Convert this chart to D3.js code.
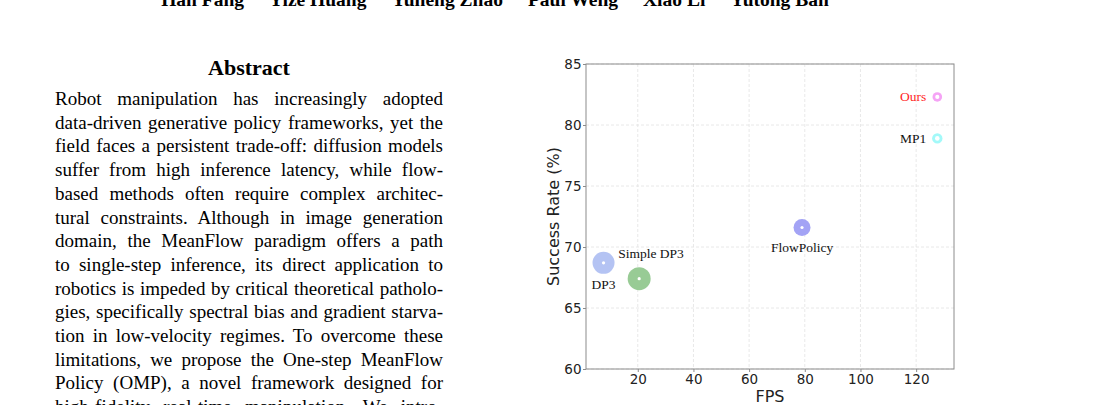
<!DOCTYPE html>
<html>
<head>
<meta charset="utf-8">
<script src="https://cdn.jsdelivr.net/npm/d3@7"></script>
<style>
  html, body { margin: 0; padding: 0; background: #fff; overflow: hidden; }
  #page { position: relative; width: 1104px; height: 405px; }
  #page svg { position: absolute; left: 0; top: 0; }
  #abstract {
    position: absolute; left: 55px; top: 87px; width: 388px;
    font-family: "Liberation Serif", "Times New Roman", serif;
    font-size: 19px; line-height: 23.7px; color: #000;
  }
  #abstract div { white-space: nowrap; }
  #abstract span { display: inline-block; }
</style>
</head>
<body>
<div id="page"><div id="abstract"></div></div>
<script>
// Paper header: author row, abstract on the left, FPS vs. success-rate scatter on the right.
const authors = ["Han Fang", "Yize Huang", "Yuheng Zhao", "Paul Weng", "Xiao Li", "Yutong Ban"];

const abstractLines = [
    "Robot manipulation has increasingly adopted",
    "data-driven generative policy frameworks, yet the",
    "field faces a persistent trade-off: diffusion models",
    "suffer from high inference latency, while flow-",
    "based methods often require complex architec-",
    "tural constraints. Although in image generation",
    "domain, the MeanFlow paradigm offers a path",
    "to single-step inference, its direct application to",
    "robotics is impeded by critical theoretical patholo-",
    "gies, specifically spectral bias and gradient starva-",
    "tion in low-velocity regimes. To overcome these",
    "limitations, we propose the One-step MeanFlow",
    "Policy (OMP), a novel framework designed for",
    "high-fidelity real-time manipulation. We intro-"
];

const methods = ["DP3", "Simple DP3", "FlowPolicy", "Ours", "MP1"];
const fps = [7.7, 20.5, 79.0, 127.6, 127.6];
const successRate = [68.7, 67.4, 71.6, 82.3, 78.9];

const xTicks = [20, 40, 60, 80, 100, 120];
const yTicks = [60, 65, 70, 75, 80, 85];

// marker look and label placement (px offsets from the point)
const markerStyle = {
    "DP3":        { fill: "#b4c3f3", r: 11,   dot: 1.6, dx: 0,   dy: 26,  anchor: "middle", text: "#111" },
    "Simple DP3": { fill: "#98cb95", r: 11.5, dot: 1.6, dx: -21, dy: -21, anchor: "start",  text: "#111" },
    "FlowPolicy": { fill: "#a3a3f5", r: 8.5,  dot: 1.6, dx: 0,   dy: 25,  anchor: "middle", text: "#111" },
    "Ours":       { fill: "#f5a3f5", r: 4.8,  dot: 2.1, dx: -11, dy: 4.5, anchor: "end",    text: "#ff1f1f" },
    "MP1":        { fill: "#a3f9f9", r: 5.2,  dot: 2.3, dx: -11, dy: 4.5, anchor: "end",    text: "#111" }
};

const serif = "'Liberation Serif', 'Times New Roman', serif";
const sans = "'DejaVu Sans', sans-serif";

const svg = d3.select("#page").insert("svg", "#abstract")
    .attr("width", 1104).attr("height", 405);

// author row, centred on the page's text block
const authorRow = svg.append("g")
    .attr("font-family", serif).attr("font-weight", "bold").attr("font-size", 19.5).attr("fill", "#000");
const authorGap = 25;
const authorText = authorRow.selectAll("text").data(authors).join("text").text(d => d).attr("y", 6);
const widths = authorText.nodes().map(n => n.getComputedTextLength());
const totalWidth = d3.sum(widths) + authorGap * (authors.length - 1);
let cursor = 495 - totalWidth / 2;
authorText.each(function (d, i) {
    d3.select(this).attr("x", cursor);
    cursor += widths[i] + authorGap;
});

svg.append("text")
    .attr("x", 249).attr("y", 75)
    .attr("text-anchor", "middle")
    .attr("font-family", serif).attr("font-weight", "bold").attr("font-size", 22)
    .attr("fill", "#000")
    .text("Abstract");

// justify each line by hand: stretch (or squeeze) the word spacing to fill the column
const columnWidth = 388;
d3.select("#abstract").selectAll("div").data(abstractLines).join("div")
    .append("span").text(d => d)
    .each(function (d) {
        const gaps = d.split(" ").length - 1;
        const natural = this.getBoundingClientRect().width;
        if (gaps > 0) d3.select(this).style("word-spacing", `${(columnWidth - natural) / gaps}px`);
    });

// scatter
const plot = { left: 586, right: 954, top: 64, bottom: 369 };
const x = d3.scaleLinear().domain([1.4, 133.6]).range([plot.left, plot.right]);
const y = d3.scaleLinear().domain([60, 85]).range([plot.bottom, plot.top]);

const chart = svg.append("g");

chart.append("g").selectAll("line").data(xTicks).join("line")
    .attr("x1", d => x(d)).attr("x2", d => x(d))
    .attr("y1", plot.top).attr("y2", plot.bottom)
    .attr("stroke", "#e2e2e2").attr("stroke-width", 0.8).attr("stroke-dasharray", "3,2");
chart.append("g").selectAll("line").data(yTicks).join("line")
    .attr("x1", plot.left).attr("x2", plot.right)
    .attr("y1", d => y(d)).attr("y2", d => y(d))
    .attr("stroke", "#e2e2e2").attr("stroke-width", 0.8).attr("stroke-dasharray", "3,2");

const xAxis = chart.append("g")
    .attr("transform", `translate(0,${plot.bottom})`)
    .call(d3.axisBottom(x).tickValues(xTicks).tickSize(3).tickPadding(2));
const yAxis = chart.append("g")
    .attr("transform", `translate(${plot.left},0)`)
    .call(d3.axisLeft(y).tickValues(yTicks).tickSize(3).tickPadding(1.5));

[xAxis, yAxis].forEach(axis => {
    axis.select(".domain").remove();
    axis.selectAll(".tick line").attr("stroke", "#8c8c8c");
    axis.selectAll(".tick text")
        .attr("font-family", sans).attr("font-size", 13.5).attr("fill", "#222");
});

chart.append("rect")
    .attr("x", plot.left).attr("y", plot.top)
    .attr("width", plot.right - plot.left).attr("height", plot.bottom - plot.top)
    .attr("fill", "none").attr("stroke", "#8c8c8c").attr("stroke-width", 1);

chart.append("text")
    .attr("x", (plot.left + plot.right) / 2).attr("y", 402)
    .attr("text-anchor", "middle")
    .attr("font-family", sans).attr("font-size", 16).attr("fill", "#222")
    .text("FPS");

chart.append("text")
    .attr("transform", `translate(559,${(plot.top + plot.bottom) / 2}) rotate(-90)`)
    .attr("text-anchor", "middle")
    .attr("font-family", sans).attr("font-size", 16).attr("fill", "#222")
    .text("Success Rate (%)");

const points = methods.map((m, i) => ({ method: m, fps: fps[i], rate: successRate[i], style: markerStyle[m] }));

const marks = chart.append("g").selectAll("g").data(points).join("g")
    .attr("transform", d => `translate(${x(d.fps)},${y(d.rate)})`);
marks.append("circle").attr("r", d => d.style.r).attr("fill", d => d.style.fill);
marks.append("circle").attr("r", d => d.style.dot).attr("fill", "#fff");
marks.append("text")
    .attr("x", d => d.style.dx).attr("y", d => d.style.dy)
    .attr("text-anchor", d => d.style.anchor)
    .attr("font-family", serif).attr("font-size", 13.5)
    .attr("fill", d => d.style.text)
    .text(d => d.method);
</script>
</body>
</html>
